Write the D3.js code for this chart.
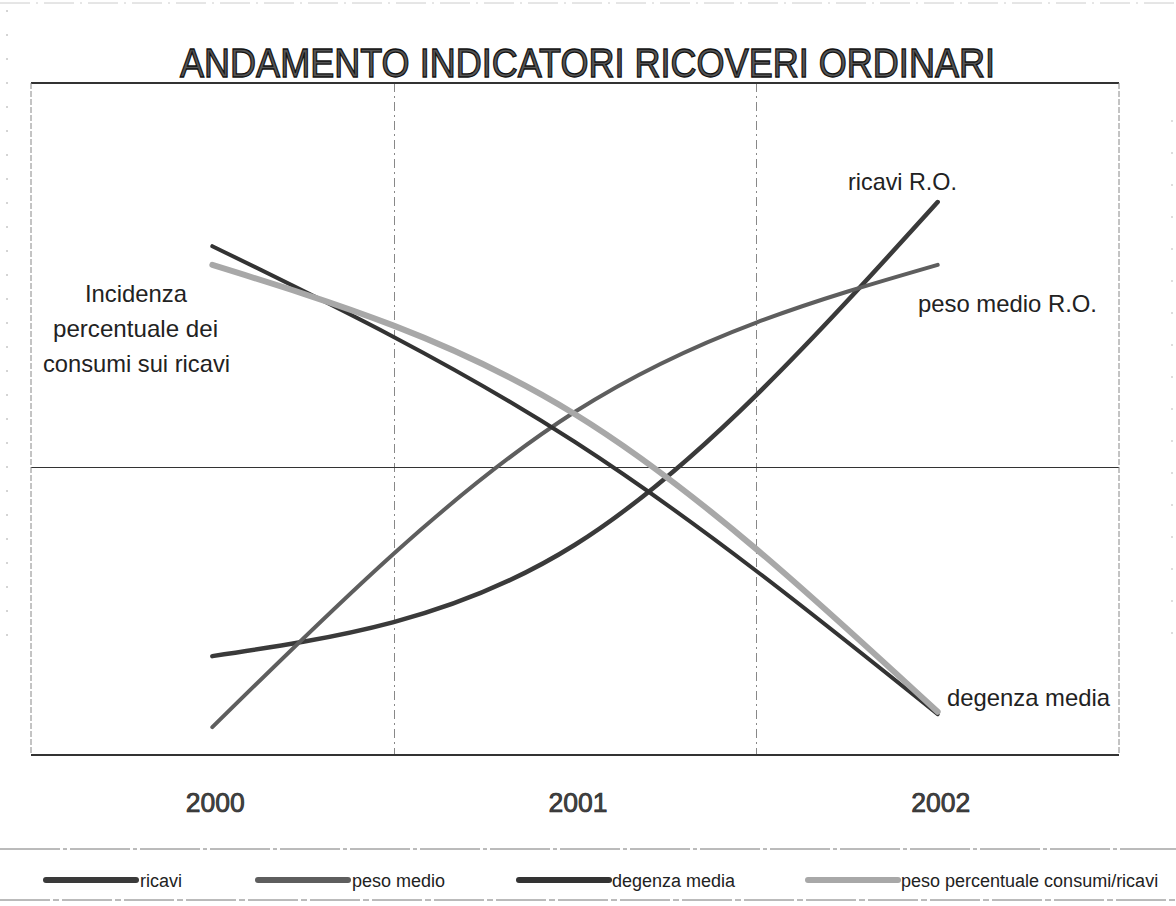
<!DOCTYPE html>
<html>
<head>
    <meta charset="utf-8">
    <title>Andamento indicatori ricoveri ordinari</title>
    <style type="text/css">
        body { margin: 0; background: #fff; }
        svg { display: block; }
    </style>
</head>

<body>
    <svg class="chart"></svg>

    <script src="https://cdn.jsdelivr.net/npm/d3@7"></script>
    <script type="text/javascript">
        // dati (indici, scala arbitraria)
        var years = ["2000", "2001", "2002"];
        var ricavi = [20.6, 43.8, 115.2];
        var pesoMedio = [5.8, 71.5, 102.1];
        var degenzaMedia = [106.0, 65.2, 8.5];
        var pesoPercentuale = [102.1, 71.0, 9.0];
        var legendNames = ["ricavi", "peso medio", "degenza media", "peso percentuale consumi/ricavi"];
        var gridValues = [60];

        var width = 1176, height = 906;
        var font = "'Liberation Sans', Arial, sans-serif";

        var svg = d3.select("svg.chart")
            .attr("width", width)
            .attr("height", height)
            .style("font-family", font);

        // scale
        var x = d3.scaleBand().domain(years).range([31, 1119]);
        var y = d3.scaleLinear().domain([0, 140]).range([755, 83]);
        var cx = d => x(d) + x.bandwidth() / 2;

        // artefatti della scansione ai bordi
        svg.append("line")
            .attr("x1", 0).attr("x2", width).attr("y1", 3).attr("y2", 3)
            .attr("stroke", "#ccc").attr("stroke-dasharray", "30,6,2,6");
        svg.append("line")
            .attr("x1", 7).attr("x2", 7).attr("y1", 10).attr("y2", 640)
            .attr("stroke", "#aaa").attr("stroke-dasharray", "2,22");
        svg.append("line")
            .attr("x1", 1172).attr("x2", 1172).attr("y1", 120).attr("y2", 640)
            .attr("stroke", "#bbb").attr("stroke-dasharray", "2,30");

        // titolo
        svg.append("text")
            .attr("x", 180)
            .attr("y", 77)
            .attr("textLength", 815)
            .attr("lengthAdjust", "spacingAndGlyphs")
            .style("font-size", "41px")
            .attr("fill", "#555")
            .attr("stroke", "#111")
            .attr("stroke-width", 1.3)
            .text("ANDAMENTO INDICATORI RICOVERI ORDINARI");

        // griglia verticale tra le categorie
        svg.append("g")
            .selectAll("line")
            .data(years.slice(1))
            .join("line")
                .attr("x1", d => Math.round(x(d)) + 0.5)
                .attr("x2", d => Math.round(x(d)) + 0.5)
                .attr("y1", y.range()[1])
                .attr("y2", y.range()[0])
                .attr("stroke", "#888")
                .attr("stroke-dasharray", "9,4,2,4");

        // griglia orizzontale
        svg.append("g")
            .selectAll("line")
            .data(gridValues)
            .join("line")
                .attr("x1", x.range()[0])
                .attr("x2", x.range()[1])
                .attr("y1", d => Math.round(y(d)) + 0.5)
                .attr("y2", d => Math.round(y(d)) + 0.5)
                .attr("stroke", "#333")
                .attr("stroke-width", 1.2);

        // bordo area del grafico
        var x0 = x.range()[0], x1 = x.range()[1], y0 = y.range()[1], y1 = y.range()[0];
        svg.append("line").attr("x1", x0).attr("x2", x1).attr("y1", y0).attr("y2", y0)
            .attr("stroke", "#333").attr("stroke-width", 1.8);
        svg.append("line").attr("x1", x0).attr("x2", x1).attr("y1", y1).attr("y2", y1)
            .attr("stroke", "#333").attr("stroke-width", 1.8);
        svg.append("line").attr("x1", x0).attr("x2", x0).attr("y1", y0).attr("y2", y1)
            .attr("stroke", "#888").attr("stroke-dasharray", "6,2");
        svg.append("line").attr("x1", x1).attr("x2", x1).attr("y1", y0).attr("y2", y1)
            .attr("stroke", "#888").attr("stroke-dasharray", "6,2");

        // serie
        var series = [
            { name: legendNames[0], values: ricavi, color: "#3a3a3a", w: 4.5 },
            { name: legendNames[1], values: pesoMedio, color: "#5e5e5e", w: 4 },
            { name: legendNames[2], values: degenzaMedia, color: "#333", w: 4 },
            { name: legendNames[3], values: pesoPercentuale, color: "#a8a8a8", w: 6 }
        ];

        var line = d3.line()
            .x((d, i) => cx(years[i]))
            .y(d => y(d))
            .curve(d3.curveNatural);

        svg.append("g")
            .selectAll("path")
            .data(series)
            .join("path")
                .attr("d", d => line(d.values))
                .attr("fill", "none")
                .attr("stroke", d => d.color)
                .attr("stroke-width", d => d.w)
                .attr("stroke-linecap", "round");

        // etichette sulle linee
        var labels = [
            { text: "ricavi R.O.", x: 848, y: 190, len: 109 },
            { text: "peso medio R.O.", x: 918, y: 312, len: 179 },
            { text: "degenza media", x: 947, y: 706, len: 163 },
            { text: "Incidenza", x: 85, y: 302, len: 102 },
            { text: "percentuale dei", x: 53, y: 337, len: 165 },
            { text: "consumi sui ricavi", x: 43, y: 372, len: 187 }
        ];

        svg.append("g")
            .selectAll("text")
            .data(labels)
            .join("text")
                .attr("x", d => d.x)
                .attr("y", d => d.y)
                .attr("textLength", d => d.len)
                .attr("lengthAdjust", "spacingAndGlyphs")
                .style("font-size", "24px")
                .attr("fill", "#222")
                .text(d => d.text);

        // etichette asse x
        svg.append("g")
            .selectAll("text")
            .data(years)
            .join("text")
                .attr("x", d => cx(d) + 3)
                .attr("y", 812)
                .attr("text-anchor", "middle")
                .attr("textLength", 59)
                .attr("lengthAdjust", "spacingAndGlyphs")
                .style("font-size", "27px")
                .attr("fill", "#444")
                .attr("stroke", "#222")
                .attr("stroke-width", 0.7)
                .text(d => d);

        // legenda
        svg.append("line")
            .attr("x1", 0).attr("x2", width).attr("y1", 849).attr("y2", 849)
            .attr("stroke", "#777").attr("stroke-dasharray", "60,3,4,3");
        svg.append("line")
            .attr("x1", 0).attr("x2", width).attr("y1", 900).attr("y2", 900)
            .attr("stroke", "#777").attr("stroke-dasharray", "50,3,6,3");

        var legendPos = [
            { sx: 46, ex: 136, tx: 140 },
            { sx: 258, ex: 348, tx: 352 },
            { sx: 519, ex: 609, tx: 612 },
            { sx: 808, ex: 898, tx: 901 }
        ];

        var legend = svg.append("g")
            .selectAll("g")
            .data(series)
            .join("g");

        legend.append("line")
            .attr("x1", (d, i) => legendPos[i].sx)
            .attr("x2", (d, i) => legendPos[i].ex)
            .attr("y1", 880)
            .attr("y2", 880)
            .attr("stroke", d => d.color)
            .attr("stroke-width", 6)
            .attr("stroke-linecap", "round");

        legend.append("text")
            .attr("x", (d, i) => legendPos[i].tx)
            .attr("y", 887)
            .style("font-size", "18px")
            .attr("fill", "#222")
            .text(d => d.name);
    </script>

</body>
</html>
